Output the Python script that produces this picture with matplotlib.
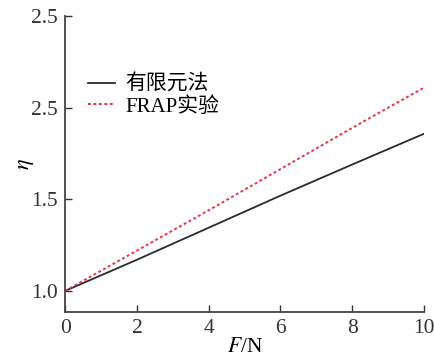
import numpy as np
import matplotlib.pyplot as plt

# force values
force = [0, 2, 4, 6, 8, 10]
eta_fem = [1.0, 1.17, 1.345, 1.52, 1.69, 1.858]
eta_frap = [1.0, 1.22, 1.44, 1.665, 1.89, 2.11]

yticks = [1.0, 1.5, 2.0, 2.5]
ytick_labels = ['1.0', '1.5', '2.5', '2.5']
xticks = [0, 2, 4, 6, 8, 10]

plt.rcParams['font.family'] = ['Liberation Serif', 'Noto Sans CJK SC']
plt.rcParams['mathtext.fontset'] = 'stix'

fig = plt.figure(figsize=(4.34, 3.59), dpi=100)
ax = fig.add_axes([0.15, 0.131, 0.827, 0.824])

ax.plot(force, eta_fem, color='#2b2b2b', lw=1.3, label='有限元法')
ax.plot(force, eta_frap, color='#e8334a', lw=1.4, ls=(0, (1.5, 1.3)), label='FRAP实验')

ax.set_xlim(0, 10)
ax.set_ylim(0.885, 2.5)
ax.set_xticks(xticks)
ax.set_yticks(yticks)
ax.set_yticklabels(ytick_labels)
ax.tick_params(direction='in', length=5, width=1, labelsize=15.5, colors='#333333', pad=5)

for side in ['top', 'right']:
    ax.spines[side].set_visible(False)
for side in ['left', 'bottom']:
    ax.spines[side].set_color('#444444')
    ax.spines[side].set_linewidth(1.3)

ax.set_xlabel('$F$/N', fontsize=15.5, labelpad=0)
ax.set_ylabel(r'$\eta$', fontsize=16, labelpad=-3)

ax.legend(loc='upper left', bbox_to_anchor=(0.012, 0.865), frameon=False,
          fontsize=15, handlelength=1.3, handletextpad=0.5, labelspacing=0.1)

plt.savefig('out.png', dpi=100)
